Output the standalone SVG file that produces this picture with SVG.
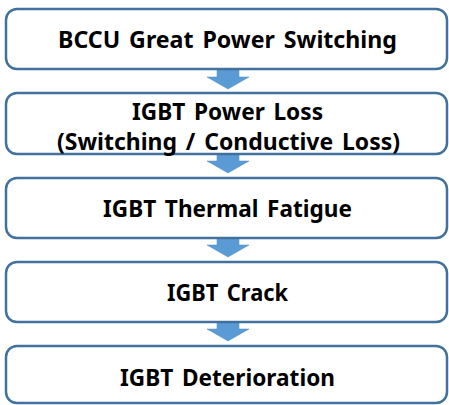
<svg xmlns="http://www.w3.org/2000/svg" width="449" height="405" viewBox="0 0 449 405">
<style>
.box{fill:#fff;stroke:#41719C;stroke-width:2.5}
.arr{fill:#5B9BD5;stroke:#4F8CC4;stroke-width:0.5}
text{font-family:"Noto Sans","Liberation Sans",sans-serif;font-weight:bold;font-size:24px;fill:#000;text-anchor:middle;word-spacing:3px}
</style>
<g id="connectors">
<path class="arr" d="M217,70 H239 V77 H249 L228,89 L207,77 H217 Z"/>
<path class="arr" d="M217,154 H239 V161 H249 L228,173 L207,161 H217 Z"/>
<path class="arr" d="M217,238 H239 V245 H249 L228,257 L207,245 H217 Z"/>
<path class="arr" d="M217,322 H239 V329 H249 L228,341 L207,329 H217 Z"/>
</g>
<g id="n1"><rect class="box" x="6" y="9" width="441" height="60" rx="11"/><text x="227.5" y="48" textLength="339" lengthAdjust="spacingAndGlyphs">BCCU Great Power Switching</text></g>
<g id="n2"><rect class="box" x="6" y="93" width="441" height="61" rx="11"/><text x="227.5" y="120" textLength="191" lengthAdjust="spacingAndGlyphs">IGBT Power Loss</text><text x="228.5" y="150" textLength="343" lengthAdjust="spacingAndGlyphs">(Switching / Conductive Loss)</text></g>
<g id="n3"><rect class="box" x="6" y="178" width="441" height="60" rx="11"/><text x="227.5" y="217" textLength="249" lengthAdjust="spacingAndGlyphs">IGBT Thermal Fatigue</text></g>
<g id="n4"><rect class="box" x="6" y="262" width="441" height="60" rx="11"/><text x="227.5" y="301" textLength="121" lengthAdjust="spacingAndGlyphs">IGBT Crack</text></g>
<g id="n5"><rect class="box" x="6" y="346" width="441" height="57" rx="11"/><text x="227.5" y="386" textLength="215" lengthAdjust="spacingAndGlyphs">IGBT Deterioration</text></g>
</svg>
